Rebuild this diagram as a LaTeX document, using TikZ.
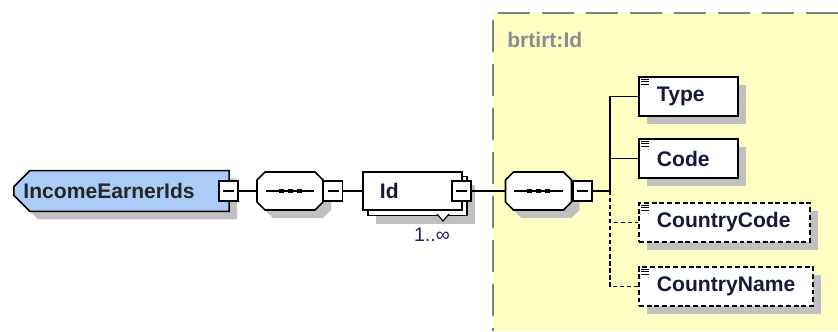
\documentclass[tikz,border=0pt]{standalone}
\usepackage{fontspec}
\setmainfont{Liberation Sans}
\usetikzlibrary{shapes,positioning,shadows,calc}

\definecolor{rootblue}{RGB}{170,204,246}
\definecolor{bgyellow}{RGB}{255,255,196}
\definecolor{shadowgray}{RGB}{192,192,192}
\definecolor{namenavy}{RGB}{20,24,60}
\definecolor{typegray}{RGB}{140,140,140}
\definecolor{multnavy}{RGB}{40,30,90}

\newcommand{\seqdots}[1]{%
  \draw[line width=1pt] ([xshift=-0.6cm]#1.center) -- ([xshift=0.6cm]#1.center);
  \foreach \dx in {-9,0,9}
    \fill ([shift={(\dx,0)}]#1.center) +(-2.5,-2) rectangle +(2.5,2);
}
\newcommand{\elicon}[1]{%
  \foreach \dy in {3,5.5,8}
    \draw[line width=0.6pt] ([shift={(3,\dy)}]#1.north west) -- +(8,0);
}

\begin{document}
\begin{tikzpicture}[x=0.025cm, y=-0.025cm,
   boxfont/.style={font=\fontsize{15}{18}\selectfont\bfseries, text=namenavy},
   dshadow/.style={drop shadow={shadow xshift=0.2cm, shadow yshift=-0.2cm, fill=shadowgray, opacity=1}},
   elembox/.style={draw, fill=white, line width=1.1pt, boxfont, minimum height=0.975cm,
      inner xsep=0.45cm, inner ysep=0pt, align=left, execute at begin node={\hyphenpenalty=10000 }},
   elem/.style={elembox, dshadow},
   optelem/.style={elem, dash pattern=on 3.5pt off 2pt},
   seq/.style={chamfered rectangle, chamfered rectangle sep=0.2cm, draw, fill=white, line width=1.1pt,
      dshadow, minimum width=1.65cm, minimum height=0.95cm, inner xsep=0pt, inner ysep=0.3cm},
   minus/.style={draw, fill=white, line width=0.9pt, minimum width=0.475cm, minimum height=0.5cm, inner sep=0pt,
      path picture={\draw[line width=0.9pt] ([xshift=0.1cm]path picture bounding box.west) -- ([xshift=-0.1cm]path picture bounding box.east);}},
   link/.style={line width=1.1pt},
   optlink/.style={link, dash pattern=on 3pt off 2pt}]
   \useasboundingbox (0,0) rectangle (838,331);

   % complex type area
   \fill[bgyellow] (493,13) rectangle (838,331);
   \draw[gray, line width=1.2pt, dash pattern=on 0.8cm off 0.3cm] (838,13) -- (493,13) -- (493,331);
   \node[anchor=west, font=\fontsize{15}{18}\selectfont\bfseries, text=typegray, inner sep=0pt] (tname) at (507,40) {brtirt:Id};

   % main row
   \node[chamfered rectangle, chamfered rectangle corners={north west,south west}, chamfered rectangle sep=0.2cm,
      draw, fill=rootblue, line width=1.1pt, dshadow, boxfont, text=black!85, minimum width=5.375cm,
      minimum height=1cm, text width=4.9cm, inner xsep=1pt, align=left] (root) at (121.5,191) {IncomeEarnerIds};
   \node[minus] (m0) at (228.5,191) {};

   \node[seq] (s1) at (290,191) {};
   \seqdots{s1}
   \node[minus] (m1) at (333,191) {};

   \node[elem, text width=1.625cm, inner xsep=0.425cm] (idb) at (417.5,196) {\phantom{Id}};
   \draw[fill=white, line width=0.8pt] (437,214) -- (443,221) -- (449,214);
   \node[elembox, text width=1.625cm, inner xsep=0.425cm, minimum height=0.95cm] (id) at (412.5,191) {Id};
   \node[minus] (m2) at (461.5,191) {};
   \node[font=\fontsize{14}{16}\selectfont, text=multnavy] (mult) at (432,235) {1..∞};

   \node[seq] (s2) at (538.5,191) {};
   \seqdots{s2}
   \node[minus] (m3) at (582.5,191) {};

   % children
   \node[elem, text width=1.575cm] (type) at (688.5,96.5) {Type};
   \node[elem, text width=1.575cm] (code) at (688.5,158.5) {Code};
   \node[optelem, text width=3.375cm] (ccode) at (724.5,222.5) {CountryCode};
   \node[optelem, text width=3.45cm] (cname) at (726,286.5) {CountryName};
   \foreach \n in {type,code,ccode,cname} {\elicon{\n}}

   \draw[link] (m0) -- (s1);
   \draw[link] (m1) -- (id);
   \draw[link] (m2) -- (s2);
   \coordinate (bus) at (610,191);
   \draw[link] (m3) -- (bus) |- (type);
   \draw[link] (bus) |- (code);
   \draw[optlink] (bus) |- (ccode);
   \draw[optlink] (bus) |- (cname);
\end{tikzpicture}
\end{document}
